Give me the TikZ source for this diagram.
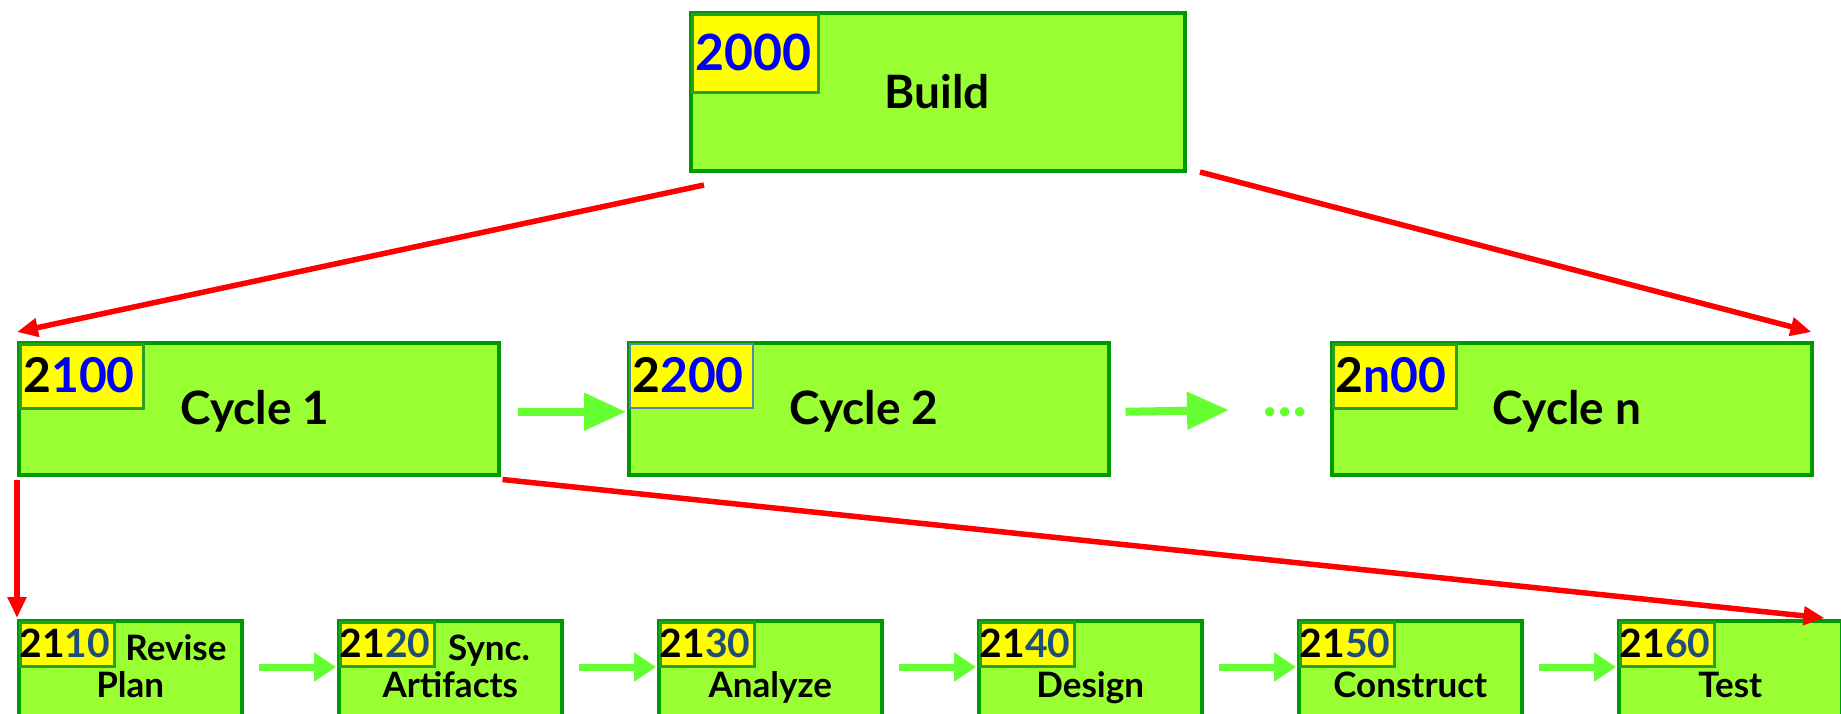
\documentclass[tikz,border=0pt]{standalone}
\usepackage{fontspec}
\setmainfont{Lato}
\usetikzlibrary{arrows.meta,calc}
\definecolor{boxfill}{RGB}{153,255,51}
\definecolor{boxline}{RGB}{0,153,0}
\definecolor{lblfill}{RGB}{255,255,0}
\definecolor{lblline}{RGB}{40,160,40}
\definecolor{lblsteel}{RGB}{90,130,170}
\definecolor{arrowgreen}{RGB}{102,255,51}
\definecolor{numblue}{RGB}{0,0,255}
\definecolor{darkblue}{RGB}{31,78,121}
\definecolor{redline}{RGB}{255,0,0}
\begin{document}
\begin{tikzpicture}[x=1pt,y=-1pt,
  box/.style={draw=boxline,fill=boxfill,line width=3.5pt,inner sep=0pt,anchor=north west},
  bigbox/.style={box,minimum width=494pt,minimum height=158pt},
  cycbox/.style={box,minimum width=480pt,minimum height=132pt},
  smallbox/.style={box,minimum width=223pt,minimum height=130pt},
  lbl/.style={draw=lblline,fill=lblfill,line width=2.5pt,inner sep=0pt,anchor=north west},
  biglbl/.style={lbl,minimum width=126pt,minimum height=78pt},
  cyclbl/.style={lbl,minimum width=123pt,minimum height=64pt},
  smalllbl/.style={lbl,minimum width=94pt,minimum height=44pt},
  txt/.style={inner sep=0pt,anchor=base,font=\bfseries},
  bigtxt/.style={txt,font=\fontsize{46}{50}\selectfont\bfseries},
  bignum/.style={txt,font=\fontsize{50}{55}\selectfont\bfseries},
  cycnum/.style={txt,font=\fontsize{48}{52}\selectfont\bfseries},
  smallnum/.style={txt,font=\fontsize{39}{44}\selectfont\bfseries},
  smalltxt/.style={txt,font=\fontsize{35}{40}\selectfont\bfseries},
  redarrow/.style={draw=redline,line width=5.5pt,-{Triangle[length=21pt,width=18pt]}},
  greenbig/.style={draw=arrowgreen,line width=8pt,-{Triangle[length=42pt,width=36pt]}},
  greensmall/.style={draw=arrowgreen,line width=7pt,-{Triangle[length=22pt,width=28pt]}}
]
\clip (0,0) rectangle (1841,713);
\fill[white] (0,0) rectangle (1841,713);

% top box
\node[bigbox] (build) at (689,11) {};
\node[biglbl] (buildlbl) at ($(build.north west)+(2,2)$) {};
\node[bignum] (buildnum) at (753,70) {\color{numblue}2000};
\node[bigtxt] (buildtxt) at (937,108) {Build};

% cycle boxes
\node[cycbox] (c1) at (17,341) {};
\node[cyclbl] (c1lbl) at ($(c1.north west)+(2,2)$) {};
\node[cycnum] (c1num) at (79,392) {2\color{numblue}100};
\node[bigtxt] (c1txt) at (255,424) {Cycle 1};

\node[cycbox] (c2) at (627,341) {};
\node[cyclbl,draw=lblsteel,line width=1.5pt] (c2lbl) at ($(c2.north west)+(2,2)$) {};
\node[cycnum] (c2num) at (688,392) {2\color{numblue}200};
\node[bigtxt] (c2txt) at (864,424) {Cycle 2};

\node[cycbox] (cn) at (1330,341) {};
\node[cyclbl] (cnlbl) at ($(cn.north west)+(2,2)$) {};
\node[cycnum] (cnnum) at (1391,392) {2\color{numblue}n00};
\node[bigtxt] (cntxt) at (1567,424) {Cycle n};

\coordinate (g2e) at (1229,410);
\node[txt,font=\fontsize{62}{66}\selectfont\bfseries\itshape,text=arrowgreen] (dots) at (1287,416) {...};

\draw[greenbig] ($(c1.east)+(17,3)$) -- ($(c2.west)+(-1,3)$);
\draw[greenbig] ($(c2.east)+(15,3)$) -- (g2e);

% bottom boxes
\foreach \i/\num/\ltwo in {1/10/Plan,2/20/Artifacts,3/30/Analyze,4/40/Design,5/50/Construct,6/60/Test}{
  \node[smallbox] (b\i) at ({17+320*(\i-1)},619) {};
  \node[smalllbl] (b\i lbl) at ($(b\i.north west)+(2,2)$) {};
  \node[smallnum] (b\i num) at ($(b\i.north west)+(48,38)$) {21\color{darkblue}\num};
  \node[smalltxt] (b\i txt) at ($(b\i.north)+(0,78)$) {\ltwo};
}
\node[smalltxt] (b1top) at ($(b1.north west)+(159,41)$) {Revise};
\node[smalltxt] (b2top) at ($(b2.north west)+(152,41)$) {Sync.};

\foreach \i/\j in {1/2,2/3,3/4,4/5,5/6}{
  \draw[greensmall] ($(b\i.north east)+(15,48)$) -- ($(b\j.north west)+(-1,48)$);
}

% red arrows
\coordinate (ra) at (704,185);
\coordinate (rb) at (1200,172);
\draw[redarrow] (ra) -- ($(c1.north west)+(0,-9)$);
\draw[redarrow] (rb) -- ($(cn.north east)+(-2,-9)$);
\draw[redarrow] ($(c1.south west)+(0,3)$) -- ($(b1.north west)+(0,-1)$);
\draw[redarrow] ($(c1.south east)+(2,3)$) -- ($(b6.north east)+(-19,-1)$);
\end{tikzpicture}
\end{document}
